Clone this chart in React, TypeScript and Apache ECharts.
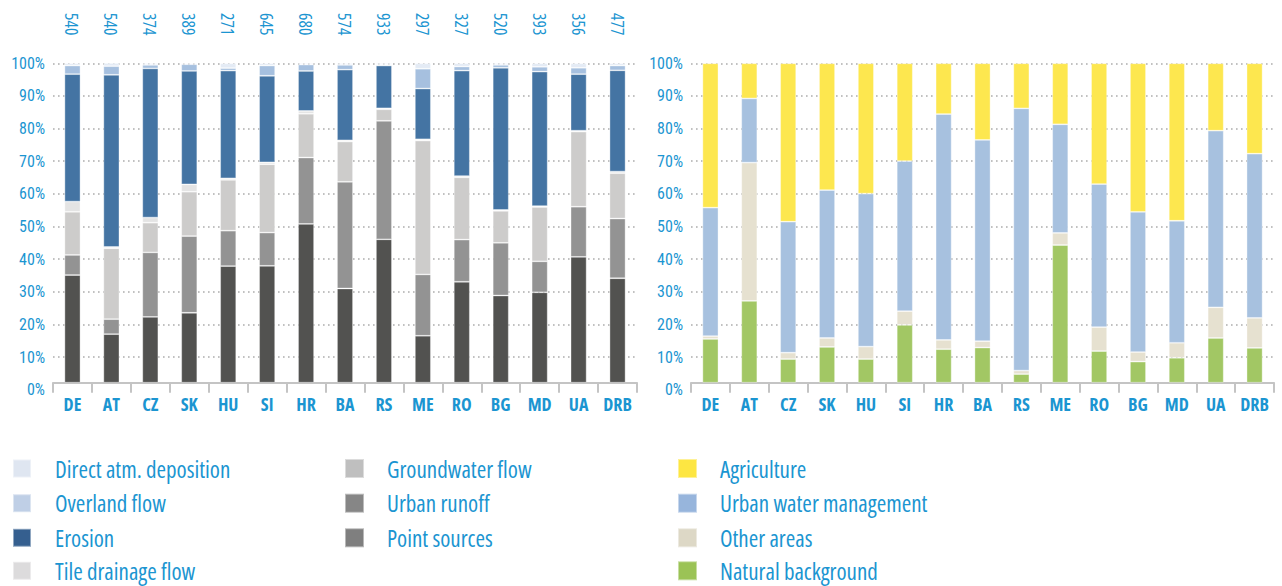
import React, { useEffect, useRef } from "react";
import * as echarts from "echarts";

const CATEGORIES = ["DE", "AT", "CZ", "SK", "HU", "SI", "HR", "BA", "RS", "ME", "RO", "BG", "MD", "UA", "DRB"];
const TOTALS = ["540", "540", "374", "389", "271", "645", "680", "574", "933", "297", "327", "520", "393", "356", "477"];

// Left chart: pathways (%)
const POINT_SOURCES = [33.7, 15.2, 20.6, 21.9, 36.5, 36.6, 49.7, 29.5, 44.9, 14.7, 31.6, 27.3, 28.3, 39.4, 32.7];
const URBAN_RUNOFF = [6.3, 4.7, 20.2, 24.0, 11.1, 10.4, 20.8, 33.4, 37.1, 19.2, 13.2, 16.5, 9.7, 15.7, 18.7];
const GROUNDWATER = [13.5, 22.2, 9.3, 13.9, 15.9, 21.4, 13.7, 12.6, 3.6, 41.9, 19.5, 10.0, 17.0, 23.5, 14.2];
const TILE_DRAINAGE = [3.2, 0.4, 1.6, 2.3, 0.5, 0.6, 0.9, 0.4, 0.3, 0.4, 0.4, 0.3, 0.3, 0.3, 0.5];
const EROSION = [39.9, 53.9, 46.7, 35.5, 33.7, 27.1, 12.5, 22.1, 13.4, 15.9, 33.0, 44.5, 42.1, 17.7, 31.7];
const OVERLAND = [2.7, 2.7, 1.1, 2.1, 0.8, 3.2, 2.0, 1.5, 0.3, 6.2, 1.3, 0.9, 1.5, 2.0, 1.5];
const DIRECT_ATM = [0.7, 1.0, 0.5, 0.3, 1.5, 0.7, 0.4, 0.5, 0.4, 1.7, 1.0, 0.5, 1.1, 1.4, 0.7];

// Right chart: sources (%)
const NATURAL = [13.7, 25.6, 7.4, 11.2, 7.4, 18.1, 10.5, 11.0, 2.7, 43.1, 9.9, 6.6, 7.8, 14.0, 10.9];
const OTHER_AREAS = [0.9, 43.3, 2.0, 2.8, 3.9, 4.3, 2.9, 2.0, 1.1, 3.8, 7.5, 3.0, 4.7, 9.6, 9.4];
const URBAN_WATER = [40.2, 20.1, 41.0, 46.3, 47.9, 47.0, 70.7, 63.0, 82.1, 34.0, 44.8, 43.9, 38.2, 55.3, 51.4];
const AGRICULTURE = [45.2, 11.0, 49.6, 39.7, 40.8, 30.6, 15.9, 24.0, 14.1, 19.1, 37.8, 46.5, 49.3, 21.1, 28.3];

// Legend names and swatch colours
const LEGEND_LEFT_A = ["Direct atm. deposition", "Overland flow", "Erosion", "Tile drainage flow"];
const LEGEND_LEFT_A_COLORS = ["#dfe6f1", "#bfcfe6", "#355f8f", "#dcdbdc"];
const LEGEND_LEFT_B = ["Groundwater flow", "Urban runoff", "Point sources"];
const LEGEND_LEFT_B_COLORS = ["#bfbfbf", "#868686", "#7f7f7f"];
const LEGEND_RIGHT = ["Agriculture", "Urban water management", "Other areas", "Natural background"];
const LEGEND_RIGHT_COLORS = ["#fde642", "#97b5dc", "#ddd8c6", "#9bc356"];

const Y_MAX = 100;

const FONT = "'Open Sans', sans-serif";
const AXIS_FONT = "Roboto, 'Open Sans', sans-serif";
const BLUE_TEXT = "#1b95d1";

export default function App() {
  const ref = useRef<HTMLDivElement>(null);

  useEffect(() => {
    if (!ref.current) return;
    const chart = echarts.init(ref.current, undefined, { renderer: "svg" });

    const leftSeries = [
      { name: "Point sources", data: POINT_SOURCES, color: "#525250" },
      { name: "Urban runoff", data: URBAN_RUNOFF, color: "#939393" },
      { name: "Groundwater flow", data: GROUNDWATER, color: "#cdcccb" },
      { name: "Tile drainage flow", data: TILE_DRAINAGE, color: "#e4e4e4" },
      { name: "Erosion", data: EROSION, color: "#4474a3" },
      { name: "Overland flow", data: OVERLAND, color: "#a6c0df" },
      { name: "Direct atm. deposition", data: DIRECT_ATM, color: "#e4ebf5" },
    ];
    const rightSeries = [
      { name: "Natural background", data: NATURAL, color: "#a2c764" },
      { name: "Other areas", data: OTHER_AREAS, color: "#e6e1d0" },
      { name: "Urban water management", data: URBAN_WATER, color: "#a7c1df" },
      { name: "Agriculture", data: AGRICULTURE, color: "#fde74f" },
    ];

    const bar = (s: any, xi: number, yi: number, stack: string) => ({
      type: "bar",
      name: s.name,
      data: s.data,
      stack,
      xAxisIndex: xi,
      yAxisIndex: yi,
      barWidth: 16,
      itemStyle: { color: s.color, borderColor: "rgba(255,255,255,0.45)", borderWidth: 0.8 },
    });

    const catAxis = (gridIndex: number) => ({
      type: "category",
      gridIndex,
      data: CATEGORIES,
      boundaryGap: true,
      axisLine: { show: true, lineStyle: { color: "#c4c4c4", width: 2 } },
      axisTick: { show: true, length: 10, lineStyle: { color: "#c4c4c4", width: 2 } },
      axisLabel: {
        interval: 0,
        color: BLUE_TEXT,
        fontFamily: FONT,
        fontWeight: "bold",
        fontSize: 18,
        margin: 12,
      },
    });
    const hiddenCat = (gridIndex: number) => ({ type: "category", gridIndex, data: CATEGORIES, show: false });
    const hiddenVal = (gridIndex: number) => ({ type: "value", gridIndex, min: 0, max: Y_MAX, show: false, splitLine: { show: false } });
    const labelVal = (gridIndex: number) => ({
      type: "value",
      gridIndex,
      min: 0,
      max: Y_MAX,
      interval: 10,
      axisLine: { show: false },
      axisTick: { show: false },
      axisLabel: { formatter: "{value}%", color: BLUE_TEXT, fontFamily: AXIS_FONT, fontSize: 16, margin: 8 },
      splitLine: { show: true, showMinLine: false, lineStyle: { color: "#adadad", width: 1.6, type: [1.6, 3.4] } },
    });

    const ROW_CENTERS = [468.5, 503.2, 537.8, 570.8];
    const legends: any[] = [];
    const addLegend = (names: string[], colors: string[], left: number, size: number, pad: number) => {
      names.forEach((name, i) => {
        legends.push({
          orient: "vertical",
          icon: "rect",
          itemWidth: size,
          itemHeight: size,
          padding: 0,
          selectedMode: false,
          left,
          top: ROW_CENTERS[i] - size / 2 - 4,
          textStyle: {
            color: BLUE_TEXT,
            fontFamily: FONT,
            fontSize: 23,
            lineHeight: size,
            padding: [0, 0, 8, pad],
          },
          data: [{ name, itemStyle: { color: colors[i] } }],
        });
      });
    };
    addLegend(LEGEND_LEFT_A, LEGEND_LEFT_A_COLORS, 12, 18, 19);
    addLegend(LEGEND_LEFT_B, LEGEND_LEFT_B_COLORS, 344, 19, 18);
    addLegend(LEGEND_RIGHT, LEGEND_RIGHT_COLORS, 677, 19, 18);

    chart.setOption({
      animation: false,
      grid: [
        { left: 53, top: 63.3, width: 584, height: 319.4 },
        { left: 53, top: 63.3, width: 584, height: 326.4 },
        { left: 691, top: 63.3, width: 583, height: 319.4 },
        { left: 691, top: 63.3, width: 583, height: 326.4 },
      ],
      xAxis: [
        catAxis(0),
        {
          type: "category",
          gridIndex: 0,
          position: "top",
          data: TOTALS,
          axisLine: { show: false },
          axisTick: { show: false },
          axisLabel: {
            interval: 0,
            rotate: 90,
            color: BLUE_TEXT,
            fontFamily: FONT,
            fontSize: 17.4,
            margin: 28,
          },
        },
        hiddenCat(1),
        catAxis(2),
        hiddenCat(3),
      ],
      yAxis: [hiddenVal(0), labelVal(1), hiddenVal(2), labelVal(3)],
      legend: legends,
      series: [
        ...leftSeries.map((s) => bar(s, 0, 0, "left")),
        ...rightSeries.map((s) => bar(s, 3, 2, "right")),
      ],
    });

    return () => chart.dispose();
  }, []);

  return (
    <>
      <style>{`#root svg text { font-stretch: condensed !important; }`}</style>
      <div
        ref={ref}
        style={{ position: "fixed", left: 0, top: 0, width: 1282, height: 586, background: "#fff" }}
      />
    </>
  );
}
